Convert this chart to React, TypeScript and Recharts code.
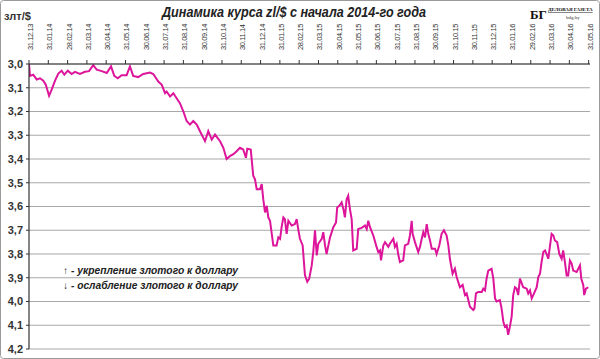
import React from "react";
import { LineChart, Line, XAxis, YAxis, CartesianGrid } from "recharts";

// month index (0 = 31.12.13, 1 = 31.01.14, ...) and PLN per USD
const months: number[] = [
  0, 0.05, 0.22, 0.4, 0.57, 0.74, 0.87, 1.04, 1.18, 1.35, 1.52, 1.69, 1.83, 2.01, 2.21, 2.38, 2.64, 2.9,
  3.11, 3.33, 3.51, 3.77, 4.03, 4.25, 4.42, 4.6, 4.8, 5.06, 5.23, 5.4, 5.66, 5.92, 6.27, 6.44, 6.7, 6.88,
  7.05, 7.13, 7.31, 7.48, 7.65, 7.82, 8.0, 8.17, 8.34, 8.51, 8.69, 8.86, 9.03, 9.12, 9.29, 9.47, 9.64, 9.9,
  10.07, 10.24, 10.41, 10.59, 10.76, 10.93, 11.1, 11.24, 11.31, 11.49, 11.62, 11.71, 11.8, 11.97, 12.06,
  12.14, 12.23, 12.32, 12.4, 12.49, 12.58, 12.66, 12.83, 12.92, 13.01, 13.09, 13.18, 13.26, 13.35, 13.44,
  13.61, 13.78, 13.87, 13.95, 14.04, 14.18, 14.3, 14.42, 14.52, 14.65, 14.73, 14.82, 14.91, 14.99, 15.17,
  15.25, 15.34, 15.42, 15.6, 15.77, 15.91, 15.97, 16.08, 16.2, 16.29, 16.37, 16.46, 16.54, 16.63, 16.72,
  16.8, 16.98, 17.06, 17.24, 17.41, 17.5, 17.58, 17.67, 17.84, 18.01, 18.1, 18.19, 18.24, 18.36, 18.45,
  18.62, 18.7, 18.88, 18.96, 19.05, 19.13, 19.22, 19.39, 19.48, 19.65, 19.74, 19.83, 19.88, 20.0, 20.17,
  20.26, 20.35, 20.43, 20.52, 20.61, 20.69, 20.78, 20.87, 21.04, 21.12, 21.26, 21.38, 21.5, 21.64, 21.73,
  21.81, 21.95, 22.07, 22.16, 22.33, 22.47, 22.59, 22.68, 22.85, 23.02, 23.08, 23.16, 23.28, 23.46, 23.54,
  23.63, 23.71, 23.8, 23.97, 24.06, 24.15, 24.23, 24.4, 24.49, 24.58, 24.66, 24.75, 24.83, 24.92, 25.01,
  25.09, 25.18, 25.27, 25.35, 25.44, 25.61, 25.79, 25.87, 25.96, 26.05, 26.13, 26.31, 26.39, 26.48, 26.56,
  26.65, 26.74, 26.82, 26.91, 26.99, 27.08, 27.17, 27.25, 27.37, 27.48, 27.6, 27.68, 27.77, 27.86, 27.94,
  28.03, 28.12, 28.2, 28.38, 28.55, 28.62, 28.72, 28.77, 28.86, 28.98,
];

const rates: number[] = [
  3.0, 3.05, 3.045, 3.065, 3.06, 3.07, 3.087, 3.134, 3.107, 3.07, 3.04, 3.028, 3.045, 3.028, 3.042, 3.033,
  3.042, 3.033, 3.03, 3.005, 3.024, 3.03, 3.038, 3.01, 3.05, 3.06, 3.047, 3.047, 3.01, 3.05, 3.055, 3.042,
  3.036, 3.042, 3.074, 3.088, 3.123, 3.116, 3.137, 3.123, 3.144, 3.165, 3.2, 3.24, 3.255, 3.24, 3.255, 3.283,
  3.31, 3.325, 3.283, 3.318, 3.297, 3.325, 3.353, 3.4, 3.388, 3.38, 3.367, 3.353, 3.36, 3.395, 3.357, 3.36,
  3.47, 3.485, 3.527, 3.527, 3.506, 3.57, 3.625, 3.597, 3.646, 3.66, 3.715, 3.764, 3.764, 3.73, 3.736, 3.687,
  3.646, 3.653, 3.715, 3.66, 3.68, 3.674, 3.653, 3.695, 3.736, 3.764, 3.89, 3.917, 3.904, 3.848, 3.792, 3.7,
  3.806, 3.757, 3.736, 3.708, 3.764, 3.8, 3.73, 3.687, 3.667, 3.604, 3.597, 3.583, 3.611, 3.646, 3.57, 3.555,
  3.611, 3.653, 3.785, 3.778, 3.695, 3.69, 3.68, 3.695, 3.66, 3.687, 3.722, 3.77, 3.792, 3.785, 3.827,
  3.764, 3.75, 3.77, 3.757, 3.736, 3.77, 3.757, 3.8, 3.834, 3.827, 3.764, 3.757, 3.722, 3.66, 3.715, 3.75,
  3.792, 3.77, 3.736, 3.708, 3.73, 3.674, 3.715, 3.743, 3.778, 3.778, 3.8, 3.764, 3.715, 3.7, 3.722, 3.764,
  3.82, 3.883, 3.862, 3.897, 3.94, 3.93, 3.973, 3.966, 4.022, 4.036, 4.03, 3.966, 3.96, 3.96, 3.946, 3.953,
  3.904, 3.87, 3.862, 3.904, 3.987, 4.0, 3.994, 4.03, 4.085, 4.106, 4.1, 4.14, 4.106, 4.064, 3.973, 3.94,
  3.946, 3.973, 3.904, 3.94, 3.946, 3.966, 3.953, 3.987, 3.973, 3.94, 3.897, 3.883, 3.834, 3.792, 3.785,
  3.8, 3.82, 3.77, 3.715, 3.722, 3.743, 3.75, 3.8, 3.82, 3.785, 3.834, 3.89, 3.89, 3.827, 3.84, 3.87, 3.876,
  3.848, 3.904, 3.93, 3.973, 3.946, 3.94,
];

const tickLabels: string[] = [
  "31.12.13", "31.01.14", "28.02.14", "31.03.14", "30.04.14", "31.05.14", "30.06.14", "31.07.14",
  "31.08.14", "30.09.14", "31.10.14", "30.11.14", "31.12.14", "31.01.15", "28.02.15", "31.03.15",
  "30.04.15", "31.05.15", "30.06.15", "31.07.15", "31.08.15", "30.09.15", "31.10.15", "30.11.15",
  "31.12.15", "31.01.16", "29.02.16", "31.03.16", "30.04.16", "31.05.16",
];

const yTicks: number[] = [3.0, 3.1, 3.2, 3.3, 3.4, 3.5, 3.6, 3.7, 3.8, 3.9, 4.0, 4.1, 4.2];

const titleText = "Динамика курса zl/$ с начала 2014-го года";
const unitText = "злт/$";
const noteUp = "↑ - укрепление  злотого к доллару";
const noteDown = "↓ - ослабление  злотого к доллару";

const data = months.map((m, i) => ({ m, v: rates[i] }));
const xTicks = tickLabels.map((_, i) => i);

const XTick = (props: any) => {
  const { x, payload } = props;
  const label = tickLabels[payload.value] ?? "";
  return (
    <text
      transform={`translate(${x + 4},50) rotate(-90)`}
      textAnchor="start"
      fontSize={7.5}
      fontFamily="Liberation Sans, Arial, sans-serif"
      fill="#333"
      letterSpacing={-0.4}
    >
      {label}
    </text>
  );
};

export default function App() {
  return (
    <div
      style={{
        position: "absolute",
        left: 0,
        top: 0,
        width: 600,
        height: 359,
        background: "#fff",
        overflow: "hidden",
      }}
    >
      <LineChart
        width={600}
        height={359}
        data={data}
        margin={{ top: 0, right: 10, bottom: 10, left: 0 }}
      >
        <CartesianGrid horizontal vertical={false} stroke="#a8a8a8" strokeWidth={1.2} />
        <XAxis
          dataKey="m"
          type="number"
          orientation="top"
          domain={[0, 29.07]}
          ticks={xTicks}
          interval={0}
          height={64}
          tickSize={4}
          axisLine={{ stroke: "#333", strokeWidth: 1.2 }}
          tickLine={{ stroke: "#333" }}
          tick={<XTick />}
          allowDataOverflow
        />
        <YAxis
          type="number"
          reversed
          domain={[3.0, 4.2]}
          ticks={yTicks}
          interval={0}
          width={29}
          tickSize={3}
          tickMargin={3}
          axisLine={{ stroke: "#333", strokeWidth: 1.2 }}
          tickLine={{ stroke: "#333" }}
          tickFormatter={(v: number) => v.toFixed(1).replace(".", ",")}
          tick={{ fontSize: 11, fontWeight: 700, fill: "#333", fontFamily: "Liberation Sans, Arial, sans-serif" }}
        />
        <Line
          type="linear"
          dataKey="v"
          stroke="#DC159B"
          strokeWidth={2}
          dot={false}
          isAnimationActive={false}
        />
      </LineChart>
      <svg
        width={600}
        height={359}
        style={{ position: "absolute", left: 0, top: 0, pointerEvents: "none" }}
      >
        <rect x={0.5} y={0.5} width={599} height={358} rx={3} fill="none" stroke="#9a9a9a" />
        <text
          x={162}
          y={17}
          fontSize={14}
          fontWeight={700}
          fontStyle="italic"
          fontFamily="Liberation Sans, Arial, sans-serif"
          fill="#222"
          textLength={264}
          lengthAdjust="spacingAndGlyphs"
        >
          {titleText}
        </text>
        <text x={4} y={20} fontSize={11} fontWeight={700} fontFamily="Liberation Sans, Arial, sans-serif" fill="#333">
          {unitText}
        </text>
        <text x={530} y={19} fontSize={13} fontWeight={700} fontFamily="Liberation Serif, serif" fill="#111">
          БГ
        </text>
        <text x={548} y={11} fontSize={5} fontWeight={700} fontFamily="Liberation Serif, serif" fill="#111" textDecoration="underline">
          ДЕЛОВАЯ ГАЗЕТА
        </text>
        <text x={566} y={19} fontSize={5} fontFamily="Liberation Serif, serif" fill="#333">
          bdg.by
        </text>
        <text x={63} y={274} fontSize={10} fontWeight={700} fontStyle="italic" fontFamily="Liberation Sans, Arial, sans-serif" fill="#222" textLength={175} lengthAdjust="spacingAndGlyphs">
          {noteUp}
        </text>
        <text x={63} y={289} fontSize={10} fontWeight={700} fontStyle="italic" fontFamily="Liberation Sans, Arial, sans-serif" fill="#222" textLength={175} lengthAdjust="spacingAndGlyphs">
          {noteDown}
        </text>
      </svg>
    </div>
  );
}
